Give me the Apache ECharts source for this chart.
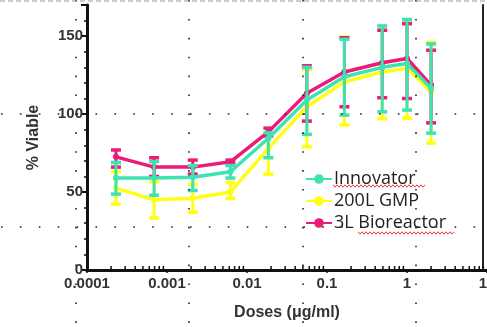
<!DOCTYPE html>
<html><head><meta charset="utf-8">
<script src="https://cdn.jsdelivr.net/npm/echarts@6/dist/echarts.min.js"></script>
<style>html,body{margin:0;padding:0;background:#fff}#c{width:487px;height:327px}</style>
</head><body><div id="c"></div>
<script>
const doses = [0.00023, 0.00069, 0.0021, 0.0062, 0.0185, 0.056, 0.165, 0.49, 1, 2];
const innovator = [59, 59, 59.5, 63, 84.5, 109, 124, 130, 132.5, 116.5];
const innovatorLow = [48.7, 48, 51, 59, 72, 87, 99.4, 101.5, 102.6, 87.8];
const innovatorHigh = [69, 69.5, 67, 67, 88, 130, 148, 156.6, 160.7, 145];
const gmp = [52.5, 45, 46, 50, 78, 104.7, 120.7, 127, 129.5, 114.3];
const gmpLow = [42.3, 33.3, 37, 46, 61.5, 79, 93, 97, 97.4, 81.4];
const gmpHigh = [63, 56.5, 55, 56, 88, 128.6, 149.5, 155, 160, 146];
const bio = [72.6, 66, 66, 69.4, 88.6, 113.4, 127, 133, 135.7, 118.6];
const bioLow = [66, 60, 61.5, 68.3, 86, 95.5, 104.7, 110.5, 110, 94.4];
const bioHigh = [77, 72, 70.5, 70.5, 91, 131, 149, 153.8, 158, 141];
const seriesNames = ['Innovator', '200L GMP', '3L Bioreactor'];
const xTickLabels = {'0.0001':'0.0001','0.001':'0.001','0.01':'0.01','0.1':'0.1','1':'1','10':'10'};
const yTicks = [0, 50, 100, 150];
const decades = [0.0001, 0.001, 0.01, 0.1, 1, 10];
const minorMult = [2, 3, 4, 5, 6, 7, 8, 9];

const TEAL = '#3fe3b2', YEL = '#ffff14', PINK = '#ec1a78';
const pts = (ys) => doses.map((d, i) => [d, ys[i]]);
const errs = (lo, hi) => doses.map((d, i) => [d, lo[i], hi[i]]);
const minorTicks = [];
decades.slice(0, -1).forEach(d => minorMult.forEach(m => minorTicks.push([d * m, 0])));

function errRender(color) {
  return function (params, api) {
    const x = api.value(0);
    const a = api.coord([x, api.value(1)]);
    const b = api.coord([x, api.value(2)]);
    const w = 5;
    const st = {stroke: color, lineWidth: 3};
    const cap = {stroke: color, lineWidth: 3.5};
    return {type: 'group', children: [
      {type: 'line', shape: {x1: a[0], y1: a[1], x2: b[0], y2: b[1]}, style: st},
      {type: 'line', shape: {x1: a[0] - w, y1: a[1], x2: a[0] + w, y2: a[1]}, style: cap},
      {type: 'line', shape: {x1: b[0] - w, y1: b[1], x2: b[0] + w, y2: b[1]}, style: cap}
    ]};
  };
}
function tickRender(params, api) {
  const p = api.coord([api.value(0), 0]);
  return {type: 'line', shape: {x1: p[0], y1: p[1], x2: p[0], y2: p[1] - 4}, style: {stroke: '#111', lineWidth: 1.5}};
}

const graphics = [];
const dot = {stroke: '#222', lineWidth: 1.6, lineDash: [1.6, 17.3]};
[114, 227].forEach(y => graphics.push({type: 'line', silent: true, z: 100, shape: {x1: 1, y1: y, x2: 487, y2: y}, style: dot}));
[76, 189, 303, 416].forEach(x => graphics.push({type: 'line', silent: true, z: 100, shape: {x1: x, y1: 0, x2: x, y2: 327}, style: dot}));
graphics.push({type: 'line', silent: true, z: 100, shape: {x1: 0, y1: 1, x2: 487, y2: 1}, style: {stroke: '#999', lineWidth: 1, lineDash: [5, 3]}});
function squiggle(x1, x2, y) {
  const p = []; let up = true;
  for (let x = x1; x <= x2; x += 2) { p.push([x, up ? y - 1.2 : y + 1.2]); up = !up; }
  return {type: 'polyline', silent: true, z: 100, shape: {points: p}, style: {stroke: '#e23b3b', lineWidth: 1, fill: null}};
}
graphics.push(squiggle(333, 425, 186));
graphics.push(squiggle(358, 455, 233));

const chart = echarts.init(document.getElementById('c'));
chart.setOption({
  backgroundColor: '#fff',
  animation: false,
  grid: {left: 87, right: 0, top: 5, bottom: 57, outerBoundsMode: 'none', containLabel: false},
  legend: {
    orient: 'vertical', left: 300, top: 165, itemGap: 4, itemWidth: 26, itemHeight: 12,
    data: seriesNames,
    textStyle: {fontFamily: 'Open Sans', fontSize: 18, color: '#222', padding: [0, 0, 0, -3]}
  },
  xAxis: [{
    type: 'log', logBase: 10, min: 0.0001, max: 10,
    name: 'Doses (μg/ml)', nameLocation: 'middle', nameGap: 35,
    nameTextStyle: {fontFamily: 'Liberation Sans', fontWeight: 'bold', fontSize: 16, color: '#333'},
    axisLine: {lineStyle: {color: '#111', width: 3}},
    axisTick: {show: true, inside: false, length: 3, lineStyle: {color: '#111', width: 1.5}},
    axisLabel: {margin: 6, showMaxLabel: true, showMinLabel: true, hideOverlap: false, fontFamily: 'Liberation Sans', fontWeight: 'bold', fontSize: 15, color: '#333',
      formatter: v => xTickLabels[String(+v.toPrecision(3))] || ''},
    splitLine: {show: false}
  }, {
    type: 'log', logBase: 10, min: 0.0001, max: 10, position: 'top',
    axisLine: {lineStyle: {color: '#111', width: 3}},
    axisTick: {show: false}, axisLabel: {show: false}, splitLine: {show: false}
  }],
  yAxis: [{
    type: 'value', min: 0, max: 170, interval: 50,
    name: '% Viable', nameLocation: 'middle', nameGap: 45,
    nameTextStyle: {fontFamily: 'Liberation Sans', fontWeight: 'bold', fontSize: 16, color: '#333'},
    axisLine: {show: true, lineStyle: {color: '#111', width: 3}},
    axisTick: {show: true, length: 6, lineStyle: {color: '#111', width: 2}},
    minorTick: {show: true, splitNumber: 5, length: 3, lineStyle: {color: '#111', width: 1.5}},
    axisLabel: {margin: 4, showMaxLabel: false, fontFamily: 'Liberation Sans', fontWeight: 'bold', fontSize: 15, color: '#333',
      formatter: v => yTicks.includes(v) ? String(v) : ''},
    splitLine: {show: false}
  }, {
    type: 'value', min: 0, max: 170, position: 'right', offset: -4,
    axisLine: {show: true, lineStyle: {color: '#222', width: 2}},
    axisTick: {show: false}, axisLabel: {show: false}, splitLine: {show: false}
  }],
  graphic: graphics,
  series: [
    {name: 'minorTicks', type: 'custom', renderItem: tickRender, data: minorTicks, silent: true, z: 1},
    {name: '200L GMP', type: 'line', data: pts(gmp), color: YEL, symbol: 'circle', symbolSize: 6, lineStyle: {width: 3.5}, z: 2},
    {name: '200L GMP err', type: 'custom', renderItem: errRender(YEL), data: errs(gmpLow, gmpHigh), z: 2},
    {name: '3L Bioreactor', type: 'line', data: pts(bio), color: PINK, symbol: 'circle', symbolSize: 6, lineStyle: {width: 3.5}, z: 3},
    {name: '3L Bioreactor err', type: 'custom', renderItem: errRender(PINK), data: errs(bioLow, bioHigh), z: 3},
    {name: 'Innovator', type: 'line', data: pts(innovator), color: TEAL, symbol: 'circle', symbolSize: 6, lineStyle: {width: 3.5}, z: 4},
    {name: 'Innovator err', type: 'custom', renderItem: errRender(TEAL), data: errs(innovatorLow, innovatorHigh), z: 4}
  ]
});
</script></body></html>
